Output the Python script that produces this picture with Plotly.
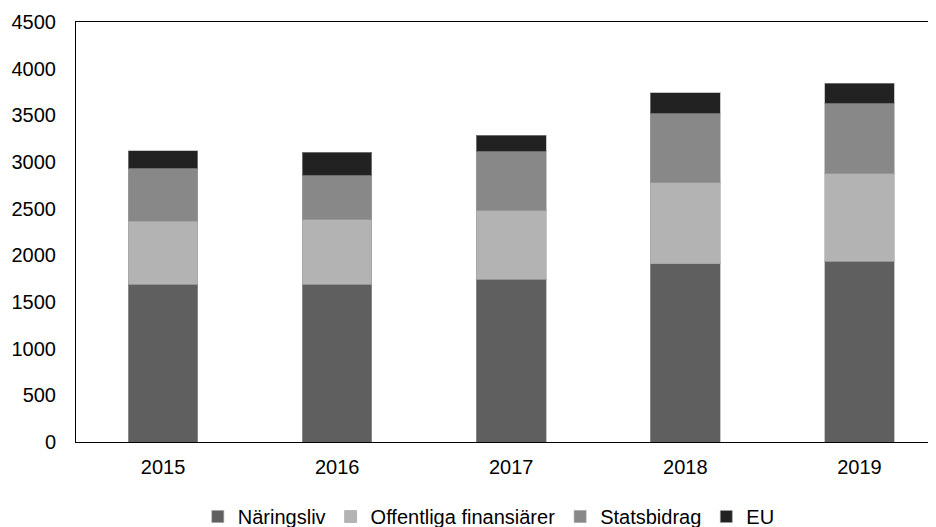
import plotly.graph_objects as go

years = ['2015', '2016', '2017', '2018', '2019']
naringsliv = [1690, 1690, 1745, 1910, 1935]
offentliga = [675, 690, 735, 869, 940]
statsbidrag = [564, 474, 630, 737, 748]
eu = [189, 253, 179, 228, 222]

series = [
    ('Näringsliv', naringsliv, '#5f5f5f'),
    ('Offentliga finansiärer', offentliga, '#b3b3b3'),
    ('Statsbidrag', statsbidrag, '#888888'),
    ('EU', eu, '#222222'),
]

fig = go.Figure()
for name, values, colour in series:
    fig.add_trace(go.Bar(
        x=years, y=values, name=name,
        marker=dict(color=colour, line=dict(color='rgba(160,160,160,0.6)', width=1)),
    ))

# page body has an 8px margin, so the figure is sized to fit the window
fig.update_layout(
    barmode='stack',
    bargap=0.6,
    width=928, height=519,
    margin=dict(l=68, r=0, t=14, b=85, autoexpand=False),
    plot_bgcolor='white', paper_bgcolor='white',
    font=dict(family='Liberation Sans, Arial, sans-serif', size=20, color='black'),
    legend=dict(orientation='h', x=0.48, xanchor='center', y=-0.131, yanchor='top',
                font=dict(size=20), itemwidth=30, traceorder='normal'),
)
fig.update_yaxes(range=[0, 4500], dtick=500, showgrid=False, showline=True,
                 linecolor='black', linewidth=1, mirror=False, ticks='',
                 ticklabelstandoff=15)
fig.update_xaxes(range=[-0.5, 4.44], showline=True, linecolor='black', linewidth=1,
                 mirror=True, ticks='', ticklabelstandoff=7)

fig.write_html("out.html")
